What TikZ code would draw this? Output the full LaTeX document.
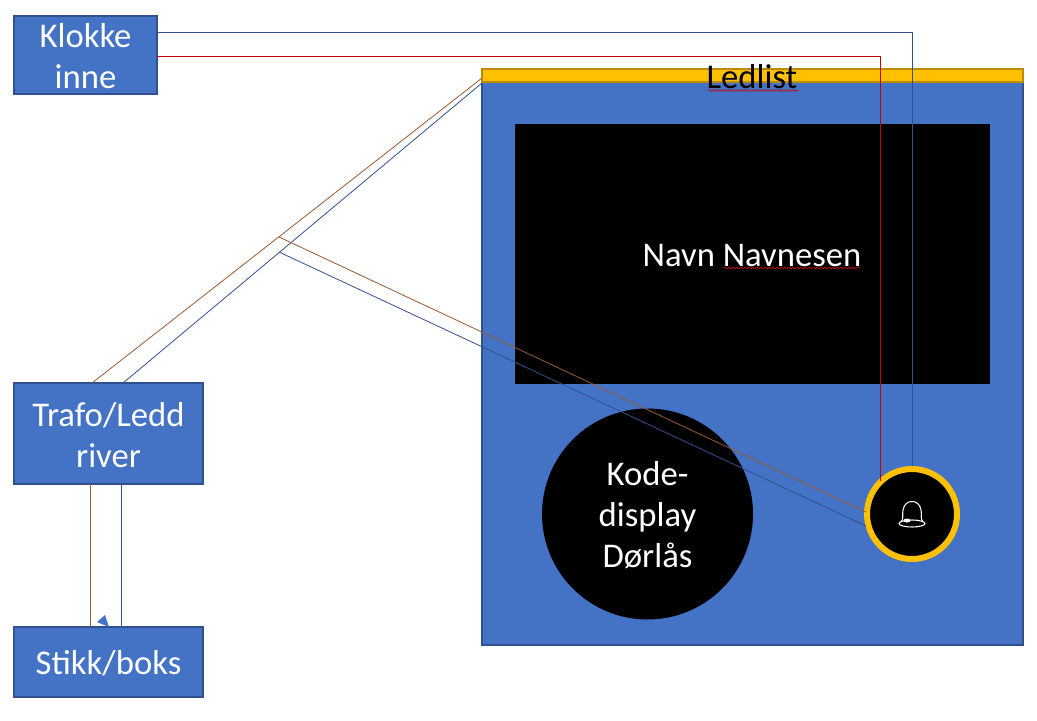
\documentclass[tikz,border=0pt]{standalone}
\usepackage{fontspec}
\setmainfont{Carlito}
\usetikzlibrary{calc,decorations.pathmorphing}
\definecolor{boxblue}{HTML}{4472C4}
\definecolor{boxedge}{HTML}{2F528F}
\definecolor{ledgold}{HTML}{FFC000}
\definecolor{ledgoldedge}{HTML}{BC8C00}
\definecolor{wirebrown}{HTML}{9A5A30}
\definecolor{wireblue}{HTML}{2F528F}
\definecolor{wirered}{HTML}{C00000}
\newcommand{\px}{0.75pt}
\begin{document}
\begin{tikzpicture}[x=0.75pt,y=-0.75pt,
   every node/.style={inner sep=0pt,outer sep=0pt,align=center,
     font=\fontsize{26}{30.75}\selectfont},
   bluebox/.style={draw=boxedge,fill=boxblue,line width=1.1pt,text=white},
   blackdisc/.style={circle,fill=black,text=white},
   brownwire/.style={draw=wirebrown,line width=0.6pt},
   bluewire/.style={draw=wireblue,line width=0.6pt},
   redwire/.style={draw=wirered,line width=0.6pt},
   squiggle/.style={draw=red!80!black,line width=0.5pt,decorate,
     decoration={snake,segment length=3pt,amplitude=0.6pt}}]
\useasboundingbox (0,0) rectangle (1037,720);
\fill[white] (0,0) rectangle (1037,720);
\node[bluebox,minimum width=143*\px,minimum height=78*\px] (klokke) at (85.5,55) {};
\node[text=white] (klokketekst) at (85.5,56) {Klokke\\inne};
\node[bluebox,minimum width=189*\px,minimum height=101*\px] (trafo) at (108.5,433.5) {};
\node[text=white] (trafotekst) at (108.5,435) {Trafo/Ledd\\river};
\node[bluebox,minimum width=189*\px,minimum height=70*\px] (stikk) at (108.5,662) {};
\node[text=white] (stikktekst) at (108.5,663) {Stikk/boks};
\node[bluebox,minimum width=541*\px,minimum height=563*\px] (panel) at (752.5,363.5) {};
\node[draw=ledgoldedge,fill=ledgold,line width=1.1pt,minimum width=541*\px,minimum height=13*\px] (ledlist) at (752.5,75.5) {};
\node (ledtekst) at (752,77) {Ledlist};
\node[fill=black,text=white,minimum width=475*\px,minimum height=260*\px] (skjerm) at (752.5,254) {};
\node[text=white] (navn) at (752,256) {Navn Navnesen};
\node[blackdisc,minimum size=211*\px] (kode) at (647.5,514) {};
\node[text=white] (kodetekst) at (647.5,515) {Kode-\\display\\Dørlås};
\node[blackdisc,draw=ledgold,line width=4.5pt,minimum size=90*\px] (bell) at (912,514) {};
\draw[squiggle] (708,90.5) -- (798,90.5);
\draw[squiggle] (724,268) -- (860,268);
% klokke
\coordinate (blueend) at (912,466);
\coordinate (redend) at (880,481);
\draw[bluewire] (klokke.east |- 0,32) -| (blueend);
\draw[redwire] (klokke.east |- 0,56) -| (redend);
% trafo og ledlist
\coordinate (brownstart) at (92,383);
\coordinate (bluestart) at (123,383);
\coordinate (brownled) at (482,78);
\coordinate (blueled) at (482,83);
\coordinate (brownfork) at (279,237);
\coordinate (bluefork) at (279,252);
\coordinate (brownbell) at (866,512);
\coordinate (bluebell) at (866,526);
\draw[brownwire] (brownstart) -- (brownled);
\draw[bluewire] (bluestart) -- (blueled);
\draw[brownwire] (brownfork) -- (brownbell);
\draw[bluewire] (bluefork) -- (bluebell);
% stikk
\draw[brownwire] (trafo.south -| 90,0) -- (stikk.north -| 90,0);
\draw[bluewire] (trafo.south -| 121,0) -- (stikk.north -| 121,0);
\fill[boxblue] (97,622) -- (105,615) -- (109,627) -- cycle;
% bjelle
\draw[white,line width=0.8pt,line join=round]
  (901,522) .. controls (904,519) and (902,514) .. (903,510)
  .. controls (904,504) and (908,501.5) .. (912,501.5)
  .. controls (916,501.5) and (920,504) .. (921,510)
  .. controls (922,514) and (920,519) .. (923,522);
\draw[white,line width=0.8pt] (912,523.5) ellipse [x radius=13,y radius=3.5];
\fill[white] (907,520.5) ellipse [x radius=3.5,y radius=2];
\end{tikzpicture}
\end{document}
